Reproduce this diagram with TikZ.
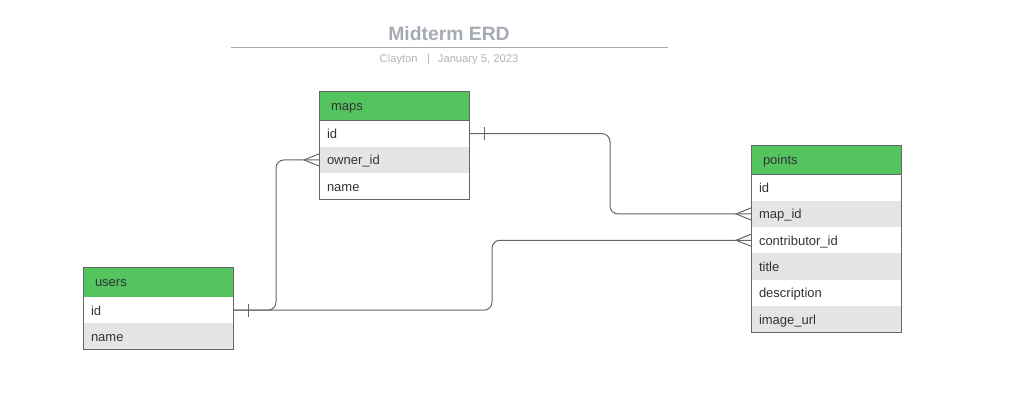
\documentclass[tikz,border=0pt]{standalone}
\usepackage{fontspec}
\setmainfont{Liberation Sans}
\usepackage{tikz}
\usetikzlibrary{positioning,calc}
\definecolor{headgreen}{RGB}{84,196,95}
\definecolor{rowgray}{RGB}{229,229,229}
\definecolor{linegray}{RGB}{102,102,102}
\definecolor{textdark}{RGB}{51,51,51}
\definecolor{titlegray}{RGB}{166,171,179}
\definecolor{subgray}{RGB}{176,180,186}
\newcommand{\pxu}{0.75pt}
\newcommand{\cellfont}{\fontsize{9.75}{11}\selectfont}

\begin{document}
\begin{tikzpicture}[x=0.75pt, y=-0.75pt,
    tblhead/.style={rectangle, draw=linegray, line width=\pxu, fill=headgreen,
        minimum width=150*\pxu, minimum height=29.5*\pxu, text width=126*\pxu,
        inner xsep=12*\pxu, inner ysep=0pt, align=left, font=\cellfont,
        text height=8.6pt, text depth=1.2pt, text=textdark, outer sep=0pt},
    tblrow/.style={tblhead, draw=none, fill=white, minimum height=26.3*\pxu,
        text width=134*\pxu, inner xsep=8*\pxu},
    tblrowalt/.style={tblrow, fill=rowgray},
    frame/.style={draw=linegray, line width=\pxu},
    rel/.style={draw=linegray, line width=\pxu, rounded corners=8*\pxu},
    foot/.style={draw=linegray, line width=\pxu}
]
    \useasboundingbox (0,0) rectangle (1009,419);

    % title block
    \node[font=\fontsize{14.5}{16}\selectfont\bfseries, text=titlegray] (title) at (449,34) {Midterm ERD};
    \draw[titlegray, line width=\pxu] (231,47) -- (668,47);
    \node[font=\fontsize{8.4}{10}\selectfont, text=subgray] (byline) at (449,59.5)
        {Clayton\hspace{7pt}|\hspace{6pt}January 5, 2023};

    % maps
    \node[tblhead, anchor=north west] (m-head) at (319,91) {maps};
    \node[tblrow, below=0pt of m-head] (m-id) {id};
    \node[tblrowalt, below=0pt of m-id] (m-owner) {owner\_id};
    \node[tblrow, below=0pt of m-owner] (m-name) {name};
    \draw[frame] (m-head.north west) rectangle (m-name.south east);

    % points
    \node[tblhead, anchor=north west] (p-head) at (751,145) {points};
    \node[tblrow, below=0pt of p-head] (p-id) {id};
    \node[tblrowalt, below=0pt of p-id] (p-map) {map\_id};
    \node[tblrow, below=0pt of p-map] (p-contrib) {contributor\_id};
    \node[tblrowalt, below=0pt of p-contrib] (p-title) {title};
    \node[tblrow, below=0pt of p-title] (p-desc) {description};
    \node[tblrowalt, below=0pt of p-desc] (p-image) {image\_url};
    \draw[frame] (p-head.north west) rectangle (p-image.south east);

    % users
    \node[tblhead, anchor=north west, minimum height=30*\pxu] (u-head) at (83,267) {users};
    \node[tblrow, below=0pt of u-head] (u-id) {id};
    \node[tblrowalt, below=0pt of u-id] (u-name) {name};
    \draw[frame] (u-head.north west) rectangle (u-name.south east);

    % relations
    \draw[rel] (m-id.east) -| ($(m-id.east)!0.5!(p-map.west)$) |- (p-map.west);
    \draw[rel] (u-id.east) -| ($(u-id.east)!0.5!(m-owner.west)$) |- (m-owner.west);
    \draw[rel] (u-id.east) -| ($(u-id.east)!0.5!(p-contrib.west)$) |- (p-contrib.west);

    % one ends
    \draw[foot] (m-id.east) ++(15,-6.5) -- ++(0,13);
    \draw[foot] (u-id.east) ++(15,-6.5) -- ++(0,13);

    % many ends
    \draw[foot] (p-map.west) ++(0,-6) -- ++(-15,6) -- ++(15,6);
    \draw[foot] (p-contrib.west) ++(0,-6) -- ++(-15,6) -- ++(15,6);
    \draw[foot] (m-owner.west) ++(0,-6) -- ++(-15,6) -- ++(15,6);
\end{tikzpicture}
\end{document}
